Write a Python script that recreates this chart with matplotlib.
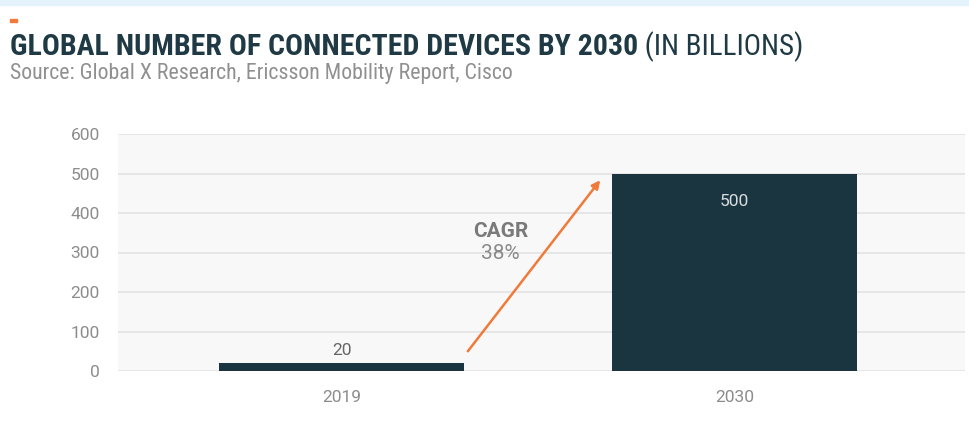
import matplotlib
matplotlib.use('Agg')
import matplotlib.pyplot as plt
from matplotlib.patches import Rectangle
from matplotlib import font_manager

# chart data
years = ['2019', '2030']
devices = [20, 500]          # billions
cagr_head = 'CAGR'
cagr_rate = '38%'
yticks = [0, 100, 200, 300, 400, 500, 600]

title_bold = 'GLOBAL NUMBER OF CONNECTED DEVICES BY 2030'
title_rest = ' (IN BILLIONS)'
source = 'Source: Global X Research, Ericsson Mobility Report, Cisco'

navy = '#1b3540'
grey = '#8c8c8c'
orange = '#f07a3a'

names = {f.name for f in font_manager.fontManager.ttflist}
cond = next((n for n in ['Roboto Condensed', 'Liberation Sans Narrow', 'Roboto']
             if n in names), 'DejaVu Sans')
body = 'Roboto' if 'Roboto' in names else 'DejaVu Sans'
plt.rcParams['font.family'] = [body, 'DejaVu Sans']

W, H = 969, 428
fig = plt.figure(figsize=(W / 100, H / 100), dpi=100)
fig.patch.set_facecolor('white')

# light band at top + orange dash
fig.patches.append(Rectangle((0, 1 - 5/H), 1, 5/H, transform=fig.transFigure,
                             color='#e4f3fb', zorder=0))
fig.patches.append(Rectangle((10/W, 1 - 22/H), 7/W, 3/H, transform=fig.transFigure,
                             color=orange, zorder=1))


def fit_text(x, y, s, width_px, size, **kw):
    # shrink/grow font so the string spans width_px
    t = fig.text(x, y, s, fontsize=size, va='baseline', family=[cond, 'DejaVu Sans'], **kw)
    fig.canvas.draw()
    w = t.get_window_extent().width
    t.set_fontsize(size * width_px / w)
    fig.canvas.draw()
    return t


t1 = fit_text(10/W, 1 - 55/H, title_bold, 627, 19, fontweight='bold', color='#1f3a45')
bb = t1.get_window_extent()
fig.text(bb.x1 / W, 1 - 55/H, title_rest, fontsize=t1.get_fontsize() * 0.97,
         color='#1f3a45', va='baseline', family=[cond, 'DejaVu Sans'])
fit_text(10/W, 1 - 79/H, source, 503, 13, color='#909090')

ax = fig.add_axes([118/W, 57/H, 847/W, 237/H])
ax.set_facecolor('#f8f8f8')
x = range(len(years))
bw = 0.623
ax.bar(x, devices, width=bw, color=navy, zorder=3)
ax.set_ylim(0, 600)
ax.set_xlim(-0.569, 1.587)
ax.set_yticks(yticks)
ax.yaxis.grid(True, color='#e3e3e3', linewidth=1.2, zorder=0)
ax.set_xticks(list(x))
ax.set_xticklabels(years)
ax.tick_params(length=0, colors=grey, labelsize=12.5, pad=13)
ax.tick_params(axis='x', pad=14)
for s in ax.spines.values():
    s.set_visible(False)

# value labels
ax.text(0, devices[0] + 12, str(devices[0]), ha='center', va='bottom',
        fontsize=12.5, color='#666666')
ax.text(1, devices[1] - 70, str(devices[1]), ha='center', va='center',
        fontsize=12.5, color='#d8dde0')

# growth arrow between bars
x0 = 0 + bw / 2 + 0.01
x1 = 1 - bw / 2 - 0.03
ax.annotate('', xy=(x1, devices[1] - 17), xytext=(x0, devices[0] + 30),
            arrowprops=dict(arrowstyle='-|>', color=orange, lw=1.8,
                            mutation_scale=12, shrinkA=0, shrinkB=0), zorder=4)
ax.text(0.405, 352, cagr_head, ha='center', va='center', fontsize=15,
        color='#7a7a7a', fontweight='bold')
ax.text(0.405, 298, cagr_rate, ha='center', va='center', fontsize=15,
        color='#8a8a8a')

fig.savefig('out.png', dpi=100)
